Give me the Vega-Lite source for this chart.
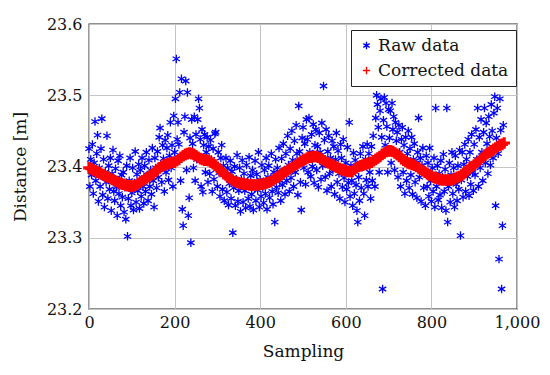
{
  "$schema": "https://vega.github.io/schema/vega-lite/v6.json",
  "width": 428,
  "height": 285,
  "autosize": {"type": "none"},
  "padding": {"left": 89, "top": 24, "right": 33, "bottom": 66},
  "background": "white",
  "config": {
    "font": "DejaVu Serif",
    "view": {"stroke": "#222222", "strokeWidth": 1.3},
    "axis": {
      "domain": false,
      "ticks": false,
      "tickSize": 0,
      "gridColor": "#c4c4c4",
      "gridWidth": 1,
      "gridOpacity": 1,
      "labelFont": "DejaVu Serif",
      "titleFont": "DejaVu Serif",
      "labelFontSize": 16,
      "labelColor": "#111111",
      "titleFontSize": 17,
      "titleFontWeight": "normal",
      "titleColor": "#111111"
    },
    "legend": {
      "labelFont": "DejaVu Serif",
      "labelFontSize": 17,
      "labelColor": "#111111",
      "strokeColor": "#222222",
      "fillColor": "white",
      "padding": 7,
      "rowPadding": 7,
      "labelOffset": 3,
      "symbolStrokeWidth": 1.4
    }
  },
  "datasets": {
    "raw": [
      {"s":0,"d":23.425},{"s":2,"d":23.372},{"s":4,"d":23.410},{"s":6,"d":23.388},{"s":8,"d":23.431},
      {"s":10,"d":23.362},{"s":12,"d":23.405},{"s":14,"d":23.463},{"s":16,"d":23.380},{"s":18,"d":23.418},
      {"s":20,"d":23.444},{"s":22,"d":23.351},{"s":24,"d":23.398},{"s":26,"d":23.372},{"s":28,"d":23.425},
      {"s":30,"d":23.467},{"s":32,"d":23.360},{"s":34,"d":23.410},{"s":36,"d":23.343},{"s":38,"d":23.392},
      {"s":40,"d":23.378},{"s":42,"d":23.443},{"s":44,"d":23.355},{"s":46,"d":23.401},{"s":48,"d":23.368},
      {"s":50,"d":23.412},{"s":52,"d":23.338},{"s":54,"d":23.390},{"s":56,"d":23.423},{"s":58,"d":23.365},
      {"s":60,"d":23.352},{"s":62,"d":23.397},{"s":64,"d":23.371},{"s":66,"d":23.331},{"s":68,"d":23.408},
      {"s":70,"d":23.362},{"s":72,"d":23.415},{"s":74,"d":23.345},{"s":76,"d":23.388},{"s":78,"d":23.357},
      {"s":80,"d":23.392},{"s":82,"d":23.336},{"s":84,"d":23.371},{"s":86,"d":23.326},{"s":88,"d":23.401},
      {"s":90,"d":23.302},{"s":92,"d":23.355},{"s":94,"d":23.380},{"s":96,"d":23.412},{"s":98,"d":23.345},
      {"s":100,"d":23.363},{"s":102,"d":23.398},{"s":104,"d":23.339},{"s":106,"d":23.377},{"s":108,"d":23.421},
      {"s":110,"d":23.350},{"s":112,"d":23.389},{"s":114,"d":23.366},{"s":116,"d":23.403},{"s":118,"d":23.341},
      {"s":120,"d":23.395},{"s":122,"d":23.358},{"s":124,"d":23.412},{"s":126,"d":23.372},{"s":128,"d":23.348},
      {"s":130,"d":23.401},{"s":132,"d":23.365},{"s":134,"d":23.420},{"s":136,"d":23.388},{"s":138,"d":23.352},
      {"s":140,"d":23.409},{"s":142,"d":23.372},{"s":144,"d":23.395},{"s":146,"d":23.361},{"s":148,"d":23.426},
      {"s":150,"d":23.380},{"s":152,"d":23.343},{"s":154,"d":23.412},{"s":156,"d":23.398},{"s":158,"d":23.370},
      {"s":160,"d":23.421},{"s":162,"d":23.385},{"s":164,"d":23.441},{"s":166,"d":23.454},{"s":168,"d":23.402},
      {"s":170,"d":23.378},{"s":172,"d":23.430},{"s":174,"d":23.411},{"s":176,"d":23.365},{"s":178,"d":23.437},
      {"s":180,"d":23.392},{"s":182,"d":23.426},{"s":184,"d":23.444},{"s":186,"d":23.381},{"s":188,"d":23.415},
      {"s":190,"d":23.462},{"s":192,"d":23.398},{"s":194,"d":23.430},{"s":196,"d":23.372},{"s":198,"d":23.471},
      {"s":200,"d":23.420},{"s":202,"d":23.495},{"s":204,"d":23.551},{"s":206,"d":23.438},{"s":208,"d":23.462},
      {"s":210,"d":23.431},{"s":212,"d":23.504},{"s":214,"d":23.380},{"s":216,"d":23.523},{"s":218,"d":23.340},
      {"s":220,"d":23.317},{"s":222,"d":23.448},{"s":224,"d":23.470},{"s":226,"d":23.520},{"s":228,"d":23.395},
      {"s":230,"d":23.504},{"s":232,"d":23.331},{"s":234,"d":23.356},{"s":236,"d":23.440},{"s":238,"d":23.293},
      {"s":240,"d":23.466},{"s":242,"d":23.432},{"s":244,"d":23.398},{"s":246,"d":23.470},{"s":248,"d":23.380},
      {"s":250,"d":23.445},{"s":252,"d":23.410},{"s":254,"d":23.466},{"s":256,"d":23.495},{"s":258,"d":23.482},
      {"s":260,"d":23.438},{"s":262,"d":23.372},{"s":264,"d":23.452},{"s":266,"d":23.364},{"s":268,"d":23.430},
      {"s":270,"d":23.445},{"s":272,"d":23.392},{"s":274,"d":23.420},{"s":276,"d":23.441},{"s":278,"d":23.378},
      {"s":280,"d":23.428},{"s":282,"d":23.390},{"s":284,"d":23.437},{"s":286,"d":23.410},{"s":288,"d":23.365},
      {"s":290,"d":23.425},{"s":292,"d":23.382},{"s":294,"d":23.446},{"s":296,"d":23.448},{"s":298,"d":23.396},
      {"s":300,"d":23.372},{"s":302,"d":23.420},{"s":304,"d":23.391},{"s":306,"d":23.358},{"s":308,"d":23.412},
      {"s":310,"d":23.430},{"s":312,"d":23.368},{"s":314,"d":23.401},{"s":316,"d":23.352},{"s":318,"d":23.389},
      {"s":320,"d":23.412},{"s":322,"d":23.364},{"s":324,"d":23.398},{"s":326,"d":23.346},{"s":328,"d":23.376},
      {"s":330,"d":23.408},{"s":332,"d":23.355},{"s":334,"d":23.393},{"s":336,"d":23.307},{"s":338,"d":23.370},
      {"s":340,"d":23.400},{"s":342,"d":23.345},{"s":344,"d":23.382},{"s":346,"d":23.416},{"s":348,"d":23.351},
      {"s":350,"d":23.366},{"s":352,"d":23.398},{"s":354,"d":23.337},{"s":356,"d":23.381},{"s":358,"d":23.409},
      {"s":360,"d":23.350},{"s":362,"d":23.390},{"s":364,"d":23.366},{"s":366,"d":23.342},{"s":368,"d":23.402},
      {"s":370,"d":23.378},{"s":372,"d":23.355},{"s":374,"d":23.413},{"s":376,"d":23.344},{"s":378,"d":23.387},
      {"s":380,"d":23.361},{"s":382,"d":23.395},{"s":384,"d":23.339},{"s":386,"d":23.376},{"s":388,"d":23.408},
      {"s":390,"d":23.352},{"s":392,"d":23.389},{"s":394,"d":23.367},{"s":396,"d":23.420},{"s":398,"d":23.343},
      {"s":400,"d":23.381},{"s":402,"d":23.358},{"s":404,"d":23.402},{"s":406,"d":23.371},{"s":408,"d":23.349},
      {"s":410,"d":23.395},{"s":412,"d":23.362},{"s":414,"d":23.412},{"s":416,"d":23.340},{"s":418,"d":23.385},
      {"s":420,"d":23.401},{"s":422,"d":23.356},{"s":424,"d":23.382},{"s":426,"d":23.418},{"s":428,"d":23.365},
      {"s":430,"d":23.347},{"s":432,"d":23.392},{"s":434,"d":23.322},{"s":436,"d":23.410},{"s":438,"d":23.371},
      {"s":440,"d":23.398},{"s":442,"d":23.363},{"s":444,"d":23.426},{"s":446,"d":23.380},{"s":448,"d":23.352},
      {"s":450,"d":23.411},{"s":452,"d":23.374},{"s":454,"d":23.432},{"s":456,"d":23.395},{"s":458,"d":23.361},
      {"s":460,"d":23.418},{"s":462,"d":23.380},{"s":464,"d":23.443},{"s":466,"d":23.402},{"s":468,"d":23.365},
      {"s":470,"d":23.425},{"s":472,"d":23.384},{"s":474,"d":23.450},{"s":476,"d":23.409},{"s":478,"d":23.372},
      {"s":480,"d":23.436},{"s":482,"d":23.392},{"s":484,"d":23.458},{"s":486,"d":23.418},{"s":488,"d":23.360},
      {"s":490,"d":23.485},{"s":492,"d":23.421},{"s":494,"d":23.378},{"s":496,"d":23.339},{"s":498,"d":23.440},
      {"s":500,"d":23.455},{"s":502,"d":23.398},{"s":504,"d":23.432},{"s":506,"d":23.375},{"s":508,"d":23.466},
      {"s":510,"d":23.438},{"s":512,"d":23.392},{"s":514,"d":23.468},{"s":516,"d":23.420},{"s":518,"d":23.386},
      {"s":520,"d":23.445},{"s":522,"d":23.400},{"s":524,"d":23.459},{"s":526,"d":23.377},{"s":528,"d":23.430},
      {"s":530,"d":23.452},{"s":532,"d":23.395},{"s":534,"d":23.428},{"s":536,"d":23.371},{"s":538,"d":23.447},
      {"s":540,"d":23.420},{"s":542,"d":23.382},{"s":544,"d":23.461},{"s":546,"d":23.401},{"s":548,"d":23.513},
      {"s":550,"d":23.437},{"s":552,"d":23.385},{"s":554,"d":23.452},{"s":556,"d":23.366},{"s":558,"d":23.421},
      {"s":560,"d":23.443},{"s":562,"d":23.390},{"s":564,"d":23.412},{"s":566,"d":23.372},{"s":568,"d":23.436},
      {"s":570,"d":23.395},{"s":572,"d":23.428},{"s":574,"d":23.361},{"s":576,"d":23.410},{"s":578,"d":23.447},
      {"s":580,"d":23.378},{"s":582,"d":23.422},{"s":584,"d":23.390},{"s":586,"d":23.355},{"s":588,"d":23.431},
      {"s":590,"d":23.412},{"s":592,"d":23.371},{"s":594,"d":23.438},{"s":596,"d":23.384},{"s":598,"d":23.350},
      {"s":600,"d":23.405},{"s":602,"d":23.368},{"s":604,"d":23.427},{"s":606,"d":23.377},{"s":608,"d":23.462},
      {"s":610,"d":23.358},{"s":612,"d":23.401},{"s":614,"d":23.380},{"s":616,"d":23.345},{"s":618,"d":23.419},
      {"s":620,"d":23.362},{"s":622,"d":23.409},{"s":624,"d":23.374},{"s":626,"d":23.338},{"s":628,"d":23.322},
      {"s":630,"d":23.385},{"s":632,"d":23.352},{"s":634,"d":23.418},{"s":636,"d":23.370},{"s":638,"d":23.399},
      {"s":640,"d":23.428},{"s":642,"d":23.362},{"s":644,"d":23.331},{"s":646,"d":23.410},{"s":648,"d":23.381},
      {"s":650,"d":23.431},{"s":652,"d":23.372},{"s":654,"d":23.418},{"s":656,"d":23.392},{"s":658,"d":23.355},
      {"s":660,"d":23.428},{"s":662,"d":23.380},{"s":664,"d":23.443},{"s":666,"d":23.410},{"s":668,"d":23.372},
      {"s":670,"d":23.468},{"s":672,"d":23.500},{"s":674,"d":23.487},{"s":676,"d":23.455},{"s":678,"d":23.392},
      {"s":680,"d":23.478},{"s":682,"d":23.495},{"s":684,"d":23.441},{"s":686,"d":23.228},{"s":688,"d":23.465},
      {"s":690,"d":23.497},{"s":692,"d":23.430},{"s":694,"d":23.489},{"s":696,"d":23.456},{"s":698,"d":23.392},
      {"s":700,"d":23.480},{"s":702,"d":23.440},{"s":704,"d":23.478},{"s":706,"d":23.405},{"s":708,"d":23.489},
      {"s":710,"d":23.452},{"s":712,"d":23.470},{"s":714,"d":23.395},{"s":716,"d":23.462},{"s":718,"d":23.436},
      {"s":720,"d":23.448},{"s":722,"d":23.385},{"s":724,"d":23.458},{"s":726,"d":23.420},{"s":728,"d":23.372},
      {"s":730,"d":23.438},{"s":732,"d":23.455},{"s":734,"d":23.392},{"s":736,"d":23.430},{"s":738,"d":23.362},
      {"s":740,"d":23.441},{"s":742,"d":23.380},{"s":744,"d":23.418},{"s":746,"d":23.450},{"s":748,"d":23.370},
      {"s":750,"d":23.425},{"s":752,"d":23.388},{"s":754,"d":23.441},{"s":756,"d":23.361},{"s":758,"d":23.410},
      {"s":760,"d":23.432},{"s":762,"d":23.378},{"s":764,"d":23.405},{"s":766,"d":23.356},{"s":768,"d":23.420},
      {"s":770,"d":23.468},{"s":772,"d":23.385},{"s":774,"d":23.412},{"s":776,"d":23.351},{"s":778,"d":23.402},
      {"s":780,"d":23.426},{"s":782,"d":23.370},{"s":784,"d":23.394},{"s":786,"d":23.345},{"s":788,"d":23.415},
      {"s":790,"d":23.372},{"s":792,"d":23.405},{"s":794,"d":23.358},{"s":796,"d":23.426},{"s":798,"d":23.380},
      {"s":800,"d":23.351},{"s":802,"d":23.398},{"s":804,"d":23.365},{"s":806,"d":23.412},{"s":808,"d":23.343},
      {"s":810,"d":23.482},{"s":812,"d":23.372},{"s":814,"d":23.401},{"s":816,"d":23.353},{"s":818,"d":23.390},
      {"s":820,"d":23.360},{"s":822,"d":23.408},{"s":824,"d":23.342},{"s":826,"d":23.385},{"s":828,"d":23.417},
      {"s":830,"d":23.365},{"s":832,"d":23.396},{"s":834,"d":23.338},{"s":836,"d":23.482},{"s":838,"d":23.322},
      {"s":840,"d":23.372},{"s":842,"d":23.405},{"s":844,"d":23.350},{"s":846,"d":23.388},{"s":848,"d":23.420},
      {"s":850,"d":23.362},{"s":852,"d":23.398},{"s":854,"d":23.343},{"s":856,"d":23.415},{"s":858,"d":23.375},
      {"s":860,"d":23.352},{"s":862,"d":23.401},{"s":864,"d":23.368},{"s":866,"d":23.423},{"s":868,"d":23.303},
      {"s":870,"d":23.381},{"s":872,"d":23.420},{"s":874,"d":23.357},{"s":876,"d":23.403},{"s":878,"d":23.431},
      {"s":880,"d":23.365},{"s":882,"d":23.410},{"s":884,"d":23.386},{"s":886,"d":23.438},{"s":888,"d":23.359},
      {"s":890,"d":23.420},{"s":892,"d":23.375},{"s":894,"d":23.445},{"s":896,"d":23.392},{"s":898,"d":23.366},
      {"s":900,"d":23.431},{"s":902,"d":23.388},{"s":904,"d":23.452},{"s":906,"d":23.410},{"s":908,"d":23.482},
      {"s":910,"d":23.372},{"s":912,"d":23.441},{"s":914,"d":23.398},{"s":916,"d":23.466},{"s":918,"d":23.420},
      {"s":920,"d":23.380},{"s":922,"d":23.448},{"s":924,"d":23.482},{"s":926,"d":23.405},{"s":928,"d":23.461},
      {"s":930,"d":23.432},{"s":932,"d":23.390},{"s":934,"d":23.470},{"s":936,"d":23.442},{"s":938,"d":23.402},
      {"s":940,"d":23.487},{"s":942,"d":23.450},{"s":944,"d":23.412},{"s":946,"d":23.475},{"s":948,"d":23.498},
      {"s":950,"d":23.345},{"s":952,"d":23.440},{"s":954,"d":23.482},{"s":956,"d":23.418},{"s":958,"d":23.270},
      {"s":960,"d":23.495},{"s":962,"d":23.451},{"s":964,"d":23.228},{"s":966,"d":23.317},{"s":968,"d":23.458}
    ],
    "cor": [
      {"s":0,"d":23.398},{"s":5,"d":23.397},{"s":10,"d":23.395},{"s":15,"d":23.394},{"s":20,"d":23.392},{"s":25,"d":23.391},{"s":30,"d":23.389},{"s":35,"d":23.388},{"s":40,"d":23.386},{"s":45,"d":23.385},
      {"s":50,"d":23.383},{"s":55,"d":23.382},{"s":60,"d":23.380},{"s":65,"d":23.379},{"s":70,"d":23.377},{"s":75,"d":23.376},{"s":80,"d":23.375},{"s":85,"d":23.374},{"s":90,"d":23.373},{"s":95,"d":23.373},
      {"s":100,"d":23.372},{"s":105,"d":23.373},{"s":110,"d":23.374},{"s":115,"d":23.376},{"s":120,"d":23.378},{"s":125,"d":23.380},{"s":130,"d":23.382},{"s":135,"d":23.384},{"s":140,"d":23.386},{"s":145,"d":23.388},
      {"s":150,"d":23.390},{"s":155,"d":23.393},{"s":160,"d":23.395},{"s":165,"d":23.398},{"s":170,"d":23.400},{"s":175,"d":23.402},{"s":180,"d":23.403},{"s":185,"d":23.404},{"s":190,"d":23.405},{"s":195,"d":23.406},
      {"s":200,"d":23.406},{"s":205,"d":23.408},{"s":210,"d":23.410},{"s":215,"d":23.413},{"s":220,"d":23.415},{"s":225,"d":23.417},{"s":230,"d":23.418},{"s":235,"d":23.419},{"s":240,"d":23.418},{"s":245,"d":23.417},
      {"s":250,"d":23.415},{"s":255,"d":23.413},{"s":260,"d":23.411},{"s":265,"d":23.410},{"s":270,"d":23.409},{"s":275,"d":23.409},{"s":280,"d":23.408},{"s":285,"d":23.406},{"s":290,"d":23.404},{"s":295,"d":23.402},
      {"s":300,"d":23.399},{"s":305,"d":23.396},{"s":310,"d":23.393},{"s":315,"d":23.390},{"s":320,"d":23.388},{"s":325,"d":23.385},{"s":330,"d":23.383},{"s":335,"d":23.381},{"s":340,"d":23.379},{"s":345,"d":23.378},
      {"s":350,"d":23.377},{"s":355,"d":23.376},{"s":360,"d":23.376},{"s":365,"d":23.375},{"s":370,"d":23.375},{"s":375,"d":23.374},{"s":380,"d":23.374},{"s":385,"d":23.374},{"s":390,"d":23.374},{"s":395,"d":23.374},
      {"s":400,"d":23.375},{"s":405,"d":23.375},{"s":410,"d":23.376},{"s":415,"d":23.377},{"s":420,"d":23.378},{"s":425,"d":23.379},{"s":430,"d":23.381},{"s":435,"d":23.383},{"s":440,"d":23.385},{"s":445,"d":23.387},
      {"s":450,"d":23.389},{"s":455,"d":23.391},{"s":460,"d":23.393},{"s":465,"d":23.395},{"s":470,"d":23.397},{"s":475,"d":23.399},{"s":480,"d":23.401},{"s":485,"d":23.403},{"s":490,"d":23.405},{"s":495,"d":23.407},
      {"s":500,"d":23.409},{"s":505,"d":23.410},{"s":510,"d":23.412},{"s":515,"d":23.413},{"s":520,"d":23.413},{"s":525,"d":23.414},{"s":530,"d":23.414},{"s":535,"d":23.413},{"s":540,"d":23.412},{"s":545,"d":23.410},
      {"s":550,"d":23.408},{"s":555,"d":23.406},{"s":560,"d":23.405},{"s":565,"d":23.403},{"s":570,"d":23.402},{"s":575,"d":23.400},{"s":580,"d":23.399},{"s":585,"d":23.397},{"s":590,"d":23.396},{"s":595,"d":23.395},
      {"s":600,"d":23.394},{"s":605,"d":23.393},{"s":610,"d":23.393},{"s":615,"d":23.393},{"s":620,"d":23.396},{"s":625,"d":23.398},{"s":630,"d":23.400},{"s":635,"d":23.401},{"s":640,"d":23.402},{"s":645,"d":23.403},
      {"s":650,"d":23.404},{"s":655,"d":23.405},{"s":660,"d":23.406},{"s":665,"d":23.408},{"s":670,"d":23.410},{"s":675,"d":23.412},{"s":680,"d":23.414},{"s":685,"d":23.417},{"s":690,"d":23.419},{"s":695,"d":23.421},
      {"s":700,"d":23.422},{"s":705,"d":23.422},{"s":710,"d":23.421},{"s":715,"d":23.419},{"s":720,"d":23.417},{"s":725,"d":23.414},{"s":730,"d":23.411},{"s":735,"d":23.409},{"s":740,"d":23.407},{"s":745,"d":23.405},
      {"s":750,"d":23.404},{"s":755,"d":23.403},{"s":760,"d":23.402},{"s":765,"d":23.400},{"s":770,"d":23.398},{"s":775,"d":23.396},{"s":780,"d":23.394},{"s":785,"d":23.392},{"s":790,"d":23.390},{"s":795,"d":23.388},
      {"s":800,"d":23.387},{"s":805,"d":23.385},{"s":810,"d":23.384},{"s":815,"d":23.383},{"s":820,"d":23.382},{"s":825,"d":23.381},{"s":830,"d":23.381},{"s":835,"d":23.381},{"s":840,"d":23.381},{"s":845,"d":23.381},
      {"s":850,"d":23.382},{"s":855,"d":23.383},{"s":860,"d":23.385},{"s":865,"d":23.386},{"s":870,"d":23.388},{"s":875,"d":23.390},{"s":880,"d":23.392},{"s":885,"d":23.395},{"s":890,"d":23.398},{"s":895,"d":23.400},
      {"s":900,"d":23.402},{"s":905,"d":23.405},{"s":910,"d":23.407},{"s":915,"d":23.410},{"s":920,"d":23.413},{"s":925,"d":23.416},{"s":930,"d":23.418},{"s":935,"d":23.420},{"s":940,"d":23.422},{"s":945,"d":23.424},
      {"s":950,"d":23.426},{"s":955,"d":23.428},{"s":960,"d":23.430},{"s":965,"d":23.431},{"s":970,"d":23.433}
    ]
  },
  "encoding": {
    "x": {
      "field": "s", "type": "quantitative",
      "scale": {"domain": [0, 1000], "nice": false, "zero": false},
      "axis": {"title": "Sampling", "values": [0, 200, 400, 600, 800, 1000], "format": ",d", "labelPadding": 5, "titlePadding": 13, "labelFlush": false}
    },
    "y": {
      "field": "d", "type": "quantitative",
      "scale": {"domain": [23.2, 23.6], "nice": false, "zero": false},
      "axis": {"title": "Distance [m]", "values": [23.2, 23.3, 23.4, 23.5, 23.6], "format": ".1f", "labelPadding": 7, "titlePadding": 17, "labelFlush": false}
    },
    "color": {
      "datum": "Raw data", "type": "nominal",
      "scale": {"domain": ["Raw data", "Corrected data"], "range": ["#0000ff", "#ff0000"]},
      "legend": {"title": null, "orient": "none", "legendX": 262, "legendY": 6, "symbolSize": 55}
    },
    "shape": {
      "datum": "Raw data", "type": "nominal",
      "scale": {"domain": ["Raw data", "Corrected data"], "range": ["M0,-1L0,1M-0.866,-0.5L0.866,0.5M-0.866,0.5L0.866,-0.5", "M-1,0L1,0M0,-1L0,1"]},
      "legend": {"title": null, "orient": "none", "legendX": 262, "legendY": 6, "symbolSize": 55}
    }
  },
  "layer": [
    {
      "data": {"name": "raw"},
      "mark": {"type": "point", "filled": false, "size": 72, "strokeWidth": 1.3, "opacity": 1}
    },
    {
      "data": {"name": "cor"},
      "mark": {"type": "point", "filled": false, "size": 135, "strokeWidth": 3.2, "opacity": 1},
      "encoding": {
        "color": {"datum": "Corrected data", "type": "nominal"},
        "shape": {"datum": "Corrected data", "type": "nominal"}
      }
    }
  ]
}
